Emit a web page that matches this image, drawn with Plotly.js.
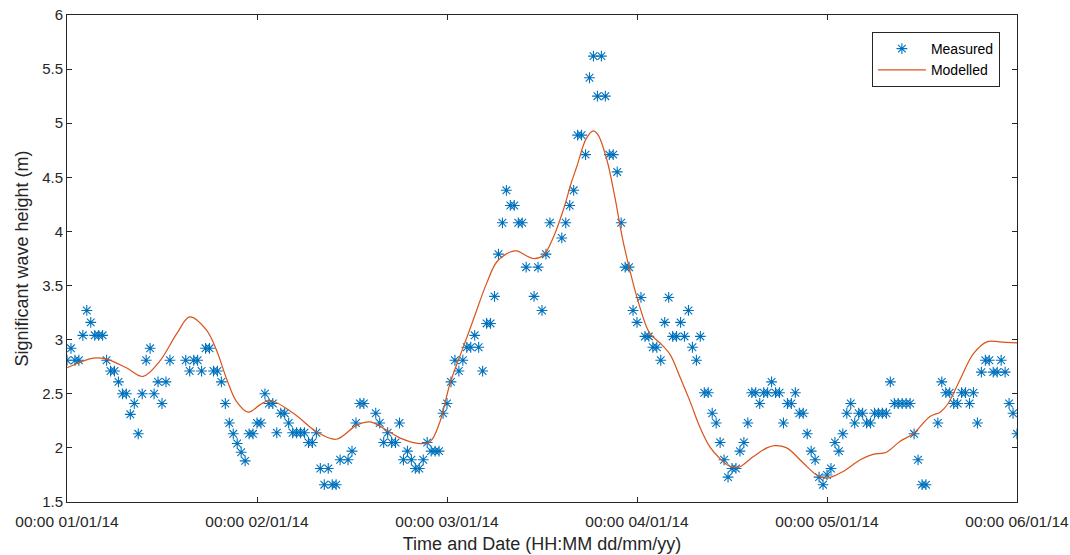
<!DOCTYPE html>
<html>
<head>
<meta charset="utf-8">
<script src="https://cdn.plot.ly/plotly-3.0.1.min.js"></script>
<style>html,body{margin:0;padding:0;background:#fff;}#chart{width:1070px;height:555px;}</style>
</head>
<body>
<div id="chart"></div>
<script>
// Measured: half-hourly samples starting 00:00 01/01/14 (null = no sample)
var measuredStepHours = 0.5;
var measuredValues = [
2.81,2.92,2.81,2.81,3.04,3.27,3.16,3.04,3.04,3.04,
2.81,2.71,2.71,2.61,2.50,2.50,2.31,2.41,2.13,2.50,
2.81,2.92,2.50,2.61,2.41,2.61,2.81,null,null,null,
2.81,2.71,2.81,2.81,2.71,2.92,2.92,2.71,2.71,2.61,
2.41,2.23,2.13,2.04,1.96,1.88,2.13,2.13,2.23,2.23,
2.50,2.41,2.41,2.14,2.32,2.32,2.23,2.14,2.14,2.14,
2.14,2.05,2.05,2.14,1.81,1.66,1.81,1.66,1.66,1.89,
null,1.89,1.97,2.23,2.41,2.41,null,null,2.32,2.23,
2.05,2.14,2.05,2.05,2.23,1.89,1.97,1.89,1.81,1.81,
1.89,2.05,1.97,1.97,1.97,2.32,2.41,2.61,2.81,2.71,
2.81,2.93,2.93,3.04,2.93,2.71,3.15,3.15,3.40,3.79,
4.08,4.38,4.24,4.24,4.08,4.08,3.67,null,3.40,3.67,
3.27,3.79,4.08,null,null,3.94,4.08,4.24,4.38,4.89,
4.89,4.71,5.42,5.62,5.25,5.62,5.25,4.71,4.71,4.55,
4.08,3.67,3.67,3.27,3.16,3.39,3.03,3.03,2.93,2.93,
2.81,3.16,3.39,3.03,3.03,3.16,3.03,3.27,2.93,2.81,
3.03,2.51,2.51,2.32,2.23,2.05,1.89,1.73,1.81,1.81,
1.97,2.05,2.23,2.51,2.51,2.41,2.51,2.51,2.61,2.51,
2.51,2.23,2.41,2.41,2.51,2.32,2.32,2.13,1.97,1.89,
1.73,1.66,1.75,1.81,2.05,1.97,2.13,2.32,2.41,2.23,
2.32,2.32,2.23,2.23,2.32,2.32,2.32,2.32,2.61,2.41,
2.41,2.41,2.41,2.41,2.13,1.89,1.66,1.66,null,null,
2.23,2.61,2.51,2.51,2.41,2.41,2.51,2.51,2.41,2.51,
2.23,2.70,2.81,2.81,2.70,2.70,2.81,2.70,2.41,2.32,
2.13
];

// Modelled: hours since 00:00 01/01/14 and wave height (m)
var modelledHours = [0,3.3,5.0,7.5,9.6,11.7,13.9,15.5,17.6,18.9,20.2,21.4,22.9,24.4,25.6,28.6,31.5,34.0,36.6,38.3,40.0,42.1,44.6,45.9,47.1,48.4,50.1,51.3,53.0,54.3,56.0,56.8,58.9,60.2,61.4,62.7,63.7,64.4,65.6,66.5,67.1,68.2,69.2,70.1,71.1,72.2,73.6,74.9,76.2,77.4,78.7,79.9,81.2,82.5,83.7,84.8,86.7,88.4,89.4,90.9,93.0,94.7,96.0,98.0,100.2,101.8,103.5,105.2,106.9,109.0,110.3,111.3,112.8,114.5,116.2,117.8,120];
var modelledValues = [2.74,2.83,2.82,2.74,2.66,2.80,3.06,3.21,3.09,2.90,2.63,2.43,2.33,2.40,2.44,2.32,2.15,2.08,2.21,2.24,2.18,2.09,2.04,2.06,2.24,2.60,2.94,3.18,3.52,3.72,3.81,3.82,3.75,3.78,3.94,4.20,4.45,4.60,4.86,4.93,4.89,4.66,4.32,3.96,3.64,3.34,3.06,2.97,2.86,2.66,2.43,2.20,2.01,1.90,1.83,1.82,1.92,2.00,2.02,2.00,1.86,1.75,1.72,1.78,1.89,1.94,1.96,2.06,2.13,2.29,2.33,2.41,2.63,2.87,2.98,2.98,2.97];

var xTickHours = [0,24,48,72,96,120];
var xTickLabels = ['00:00 01/01/14','00:00 02/01/14','00:00 03/01/14','00:00 04/01/14','00:00 05/01/14','00:00 06/01/14'];
var yTickVals = [1.5,2,2.5,3,3.5,4,4.5,5,5.5,6];
var yTickLabels = ['1.5','2','2.5','3','3.5','4','4.5','5','5.5','6'];

var measuredHours = measuredValues.map(function(v,i){return i*measuredStepHours;});

var FONT = 'Liberation Sans, Arial, sans-serif';

var traces = [
  {x: measuredHours, y: measuredValues, type:'scatter', mode:'markers', name:'Measured',
   marker:{symbol:'asterisk-open', size:9, color:'#0072BD', line:{color:'#0072BD', width:1.1}}},
  {x: modelledHours, y: modelledValues, type:'scatter', mode:'lines', name:'Modelled',
   line:{color:'#D95319', width:1.2, shape:'spline', smoothing:1}}
];

var axisCommon = {
  showgrid:false, zeroline:false, showline:true, linecolor:'#262626', linewidth:1,
  mirror:'allticks', ticks:'inside', ticklen:5, tickcolor:'#262626', tickwidth:1
};

var layout = {
  width:1070, height:555,
  margin:{l:67, r:53, t:15, b:53},
  paper_bgcolor:'#fff', plot_bgcolor:'#fff',
  showlegend:true,
  legend:{x:0.982, y:0.965, xanchor:'right', yanchor:'top', bgcolor:'#fff',
    bordercolor:'#262626', borderwidth:1, itemwidth:48, tracegroupgap:0,
    font:{family:FONT, size:14, color:'#000'}},
  xaxis:Object.assign({}, axisCommon, {range:[0,120], tickmode:'array', tickvals:xTickHours, ticktext:xTickLabels,
    tickfont:{family:FONT, size:15.5, color:'#262626'}, ticklabelstandoff:5, ticklabeloverflow:'allow',
    title:{text:'Time and Date (HH:MM dd/mm/yy)', standoff:8, font:{family:FONT, size:18, color:'#262626'}}}),
  yaxis:Object.assign({}, axisCommon, {range:[1.5,6], tickmode:'array', tickvals:yTickVals, ticktext:yTickLabels,
    tickfont:{family:FONT, size:15, color:'#262626'},
    title:{text:'Significant wave height (m)', standoff:8, font:{family:FONT, size:18, color:'#262626'}}})
};

Plotly.newPlot('chart', traces, layout, {displayModeBar:false, staticPlot:true});
</script>
</body>
</html>
